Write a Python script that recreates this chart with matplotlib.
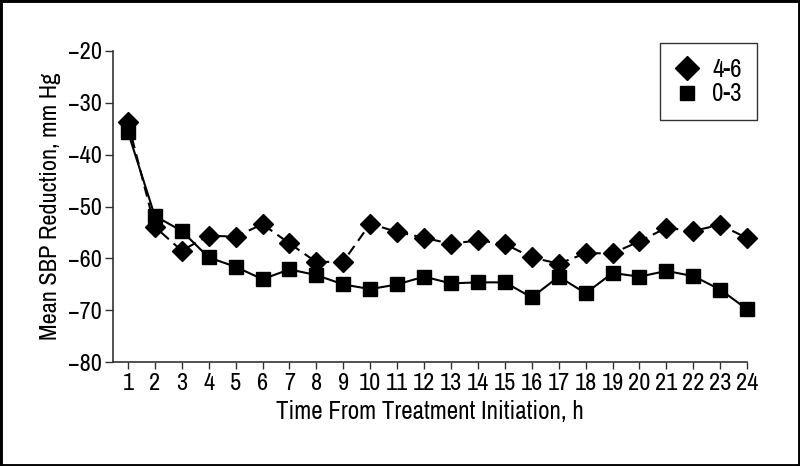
import matplotlib
matplotlib.use('Agg')
import matplotlib.pyplot as plt
from matplotlib.lines import Line2D
from matplotlib.patches import Rectangle

plt.rcParams['font.family'] = ['Archivo Narrow', 'DejaVu Sans']

# Dados
horas = list(range(1, 25))
grupo_4_6 = [-33.7, -53.9, -58.5, -55.6, -55.8, -53.4, -57.1, -60.7, -60.6, -53.3,
             -54.9, -56.0, -57.2, -56.5, -57.2, -59.8, -61.0, -59.0, -59.0, -56.7,
             -54.1, -54.7, -53.5, -56.1]
grupo_0_3 = [-35.6, -51.8, -54.7, -59.8, -61.6, -64.0, -62.1, -63.2, -65.0, -65.9,
             -65.0, -63.5, -64.8, -64.6, -64.6, -67.5, -63.5, -66.7, -62.8, -63.5,
             -62.4, -63.4, -66.0, -69.8]
yticks = [-20, -30, -40, -50, -60, -70, -80]
rotulos = ['4-6', '0-3']

fig = plt.figure(figsize=(8, 4.66), dpi=100)
ax = fig.add_axes([0.141, 0.2225, 0.793, 0.6685])

ax.plot(horas, grupo_0_3, color='black', lw=1.5, ls='-', marker='s',
        markersize=9.5, clip_on=False, zorder=3)
ax.plot(horas, grupo_4_6, color='black', lw=1.5, ls=(0, (5, 3)), marker='D',
        markersize=10, clip_on=False, zorder=4)

ax.set_xlim(0.44, 24)
ax.set_ylim(-80, -20)
ax.set_xticks(horas)
ax.set_yticks(yticks)
ax.tick_params(axis='both', labelsize=17.5, direction='out', color='#333333', width=1)
ax.tick_params(axis='y', length=6, pad=2)
ax.tick_params(axis='x', length=5, pad=3)

for lado in ['top', 'right']:
    ax.spines[lado].set_visible(False)
for lado in ['left', 'bottom']:
    ax.spines[lado].set_color('#333333')
    ax.spines[lado].set_linewidth(1.2)

ax.set_xlabel('Time From Treatment Initiation, h', fontsize=18, labelpad=4)
ax.set_ylabel('Mean SBP Reduction, mm Hg', fontsize=17.5, labelpad=5)

# Legenda apenas com marcadores
handles = [Line2D([], [], color='black', marker='D', markersize=12, ls='none'),
           Line2D([], [], color='black', marker='s', markersize=9.5, ls='none')]
leg = fig.legend(handles, rotulos, loc='upper right', bbox_to_anchor=(0.946, 0.9077),
                 borderaxespad=0, fontsize=18, frameon=True, fancybox=False,
                 handlelength=1.0, handletextpad=0.5, borderpad=0.6,
                 labelspacing=0.05)
leg.get_frame().set_edgecolor('black')
leg.get_frame().set_linewidth(1.0)

# Moldura da figura
fig.patches.append(Rectangle((0, 0), 1, 1, transform=fig.transFigure, fill=False,
                             lw=3.5, ec='black'))

fig.savefig('out.png', dpi=100)
